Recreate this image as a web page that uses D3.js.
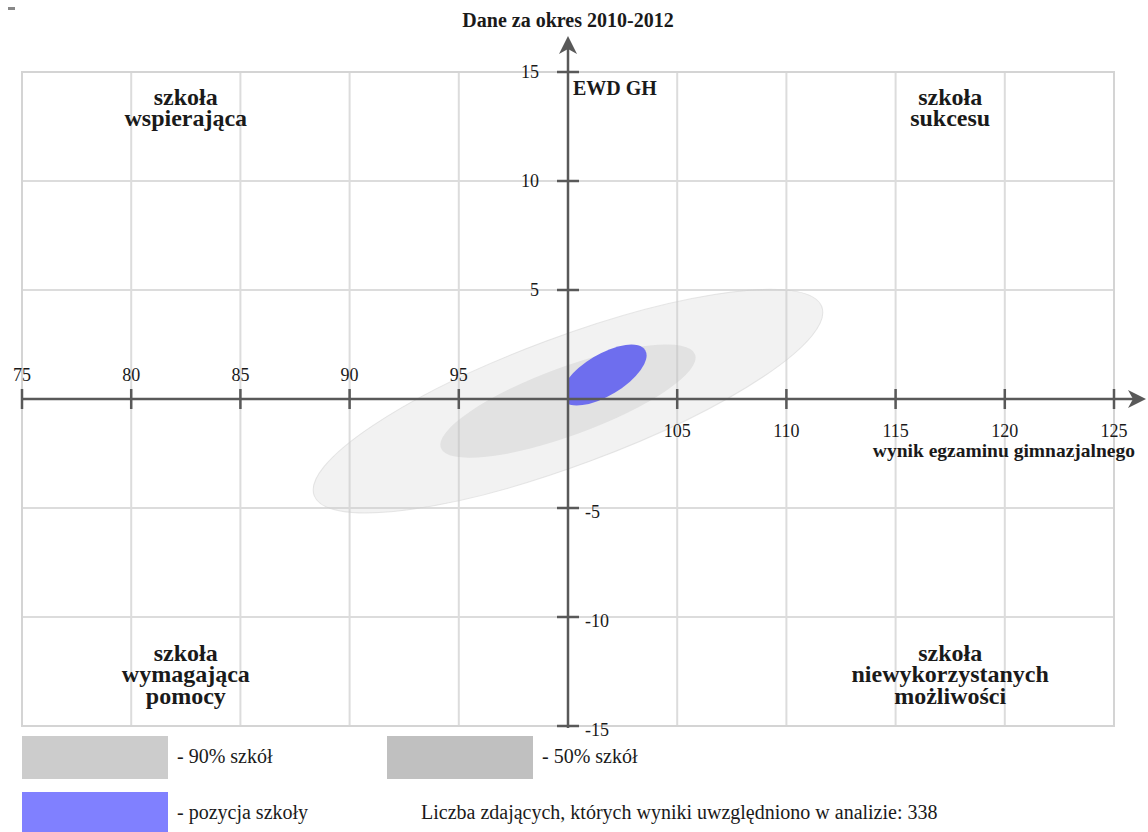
<!DOCTYPE html>
<html>
<head>
<meta charset="utf-8">
<script src="https://cdn.jsdelivr.net/npm/d3@7"></script>
<style>
  body { margin: 0; background: #fff; }
  text { font-family: "Liberation Serif", "Times New Roman", serif; fill: #1a1a1a; }
</style>
</head>
<body>
<div id="chart"></div>
<script>
// values
const xTickValues = [75, 80, 85, 90, 95, 100, 105, 110, 115, 120, 125];
const yTickValues = [-15, -10, -5, 0, 5, 10, 15];

// ellipses: 90% of schools, 50% of schools, school position (data units)
const ellipseNames  = ["90% szkół", "50% szkół", "pozycja szkoły"];
const ellipseCx     = [100, 100, 101.65];
const ellipseCy     = [-0.1, -0.1, 1.1];
const ellipseRx     = [12.4, 6.2, 2.2];
const ellipseRy     = [2.93, 1.56, 0.95];
const ellipseAngle  = [20.4, 20.2, 31];

const quadrantLabels = [
  ["szkoła", "wspierająca"],
  ["szkoła", "sukcesu"],
  ["szkoła", "wymagająca", "pomocy"],
  ["szkoła", "niewykorzystanych", "możliwości"]
];

const title = "Dane za okres 2010-2012";
const yTitle = "EWD GH";
const xTitle = "wynik egzaminu gimnazjalnego";
const countNote = "Liczba zdających, których wyniki uwzględniono w analizie: 338";

const width = 1148, height = 832;

const svg = d3.select("#chart").append("svg")
  .attr("width", width)
  .attr("height", height);

const x = d3.scaleLinear().domain([75, 125]).range([22, 1114]);
const y = d3.scaleLinear().domain([-15, 15]).range([726, 72]);

// grid
const grid = svg.append("g")
  .attr("stroke", "#dcdcdc")
  .attr("stroke-width", 2);

grid.selectAll(".vx")
  .data(xTickValues)
  .enter().append("line")
    .attr("x1", d => x(d)).attr("x2", d => x(d))
    .attr("y1", y(15)).attr("y2", y(-15));

grid.selectAll(".hy")
  .data(yTickValues)
  .enter().append("line")
    .attr("x1", x(75)).attr("x2", x(125))
    .attr("y1", d => y(d)).attr("y2", d => y(d));

grid.append("rect")
  .attr("x", x(75)).attr("y", y(15))
  .attr("width", x(125) - x(75)).attr("height", y(-15) - y(15))
  .attr("fill", "none")
  .attr("stroke", "#d4d4d4");

// clip for school position (right of the y axis)
svg.append("clipPath").attr("id", "rightHalf")
  .append("rect")
    .attr("x", x(100)).attr("y", y(15))
    .attr("width", x(125) - x(100)).attr("height", y(-15) - y(15));

const ellipseFill = ["#cccccc", "#bdbdbd", "#6e6eee"];
const ellipseOpacity = [0.25, 0.3, 1];

svg.append("g").selectAll("g")
  .data(ellipseNames)
  .enter().append("g")
    .attr("clip-path", (d, i) => i == 2 ? "url(#rightHalf)" : null)
  .append("ellipse")
    .attr("cx", 0).attr("cy", 0)
    .attr("rx", (d, i) => x(ellipseCx[i] + ellipseRx[i]) - x(ellipseCx[i]))
    .attr("ry", (d, i) => y(0) - y(ellipseRy[i]))
    .attr("transform", (d, i) => "translate(" + x(ellipseCx[i]) + "," + y(ellipseCy[i]) + ") rotate(" + (-ellipseAngle[i]) + ")")
    .attr("fill", (d, i) => ellipseFill[i])
    .attr("fill-opacity", (d, i) => ellipseOpacity[i])
    .attr("stroke", (d, i) => i == 0 ? "#d0d0d0" : "none")
    .attr("stroke-opacity", 0.5);

// axes
const axisColor = "#595959";
const axes = svg.append("g")
  .attr("stroke", axisColor)
  .attr("stroke-width", 2.5);

axes.append("line")
  .attr("x1", x(75)).attr("x2", 1134)
  .attr("y1", y(0)).attr("y2", y(0));
axes.append("line")
  .attr("x1", x(100)).attr("x2", x(100))
  .attr("y1", y(-15) + 2).attr("y2", 48);

svg.append("path")
  .attr("d", "M0,0 L-9,18 L0,13 L9,18 Z")
  .attr("fill", axisColor)
  .attr("transform", "translate(" + x(100) + ",36)");
svg.append("path")
  .attr("d", "M0,0 L-9,18 L0,13 L9,18 Z")
  .attr("fill", axisColor)
  .attr("transform", "translate(1146," + y(0) + ") rotate(90)");

// ticks
axes.selectAll(".tx")
  .data(xTickValues.filter(d => d != 100))
  .enter().append("line")
    .attr("x1", d => x(d)).attr("x2", d => x(d))
    .attr("y1", y(0) - 10).attr("y2", y(0) + 10);

axes.selectAll(".ty")
  .data(yTickValues.filter(d => d != 0))
  .enter().append("line")
    .attr("x1", x(100) - 11).attr("x2", x(100) + 11)
    .attr("y1", d => y(d)).attr("y2", d => y(d));

// tick labels
svg.append("g").selectAll("text")
  .data(xTickValues.filter(d => d != 100))
  .enter().append("text")
    .attr("x", d => x(d))
    .attr("y", d => d < 100 ? y(0) - 18 : y(0) + 38)
    .attr("text-anchor", "middle")
    .style("font-size", "18px")
    .text(d => d);

svg.append("g").selectAll("text")
  .data(yTickValues.filter(d => d != 0))
  .enter().append("text")
    .attr("x", d => d > 0 ? x(100) - 29 : x(100) + 17)
    .attr("y", d => d > 0 ? y(d) + 6 : y(d) + 10)
    .attr("text-anchor", d => d > 0 ? "end" : "start")
    .style("font-size", "18px")
    .text(d => d);

// titles
svg.append("text")
  .attr("x", x(100)).attr("y", 27)
  .attr("text-anchor", "middle")
  .style("font-size", "20px").style("font-weight", "bold")
  .text(title);

svg.append("text")
  .attr("x", x(100) + 5).attr("y", 95)
  .style("font-size", "20px").style("font-weight", "bold")
  .text(yTitle);

svg.append("text")
  .attr("x", 1135).attr("y", 457)
  .attr("text-anchor", "end")
  .style("font-size", "19.5px").style("font-weight", "bold")
  .text(xTitle);

// quadrant labels
const quadX = [82.5, 117.5, 82.5, 117.5];
const quadY = [13.5, 13.5, -12.0, -12.0];
quadrantLabels.forEach((lines, i) => {
  const t = svg.append("text")
    .attr("text-anchor", "middle")
    .style("font-size", "24px").style("font-weight", "bold");
  t.selectAll("tspan")
    .data(lines)
    .enter().append("tspan")
      .attr("x", x(quadX[i]))
      .attr("y", (d, j) => y(quadY[i]) + j * 21.5)
      .text(d => d);
});

// legend
const legendBoxes = [
  { x: 22,  y: 736, fill: "#cccccc", label: "- " + ellipseNames[0] },
  { x: 387, y: 736, fill: "#c0c0c0", label: "- " + ellipseNames[1] },
  { x: 22,  y: 792, fill: "#8080ff", label: "- " + ellipseNames[2] }
];
const legend = svg.append("g").selectAll("g")
  .data(legendBoxes)
  .enter().append("g");
legend.append("rect")
  .attr("x", d => d.x).attr("y", d => d.y)
  .attr("width", 146).attr("height", 43)
  .attr("fill", d => d.fill);
legend.append("text")
  .attr("x", d => d.x + 155).attr("y", d => d.y + 27)
  .style("font-size", "20px")
  .text(d => d.label);

svg.append("text")
  .attr("x", 421).attr("y", 819)
  .style("font-size", "20px")
  .text(countNote);

// small stray mark in the corner
svg.append("rect")
  .attr("x", 8).attr("y", 7).attr("width", 7).attr("height", 3)
  .attr("fill", "#888");
</script>
</body>
</html>
